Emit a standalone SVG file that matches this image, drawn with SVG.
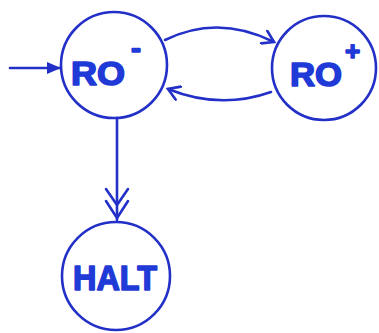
<svg xmlns="http://www.w3.org/2000/svg" width="379" height="333" viewBox="0 0 379 333">
<defs>
<style>
.st{fill:none;stroke:#2330c8;stroke-width:2.6;stroke-linecap:round;stroke-linejoin:round}
.tx{fill:#1f3ad6;stroke:#1f3ad6;stroke-width:1.6;stroke-linejoin:round;font-family:"Liberation Sans",Arial,sans-serif;font-weight:bold}
</style>
<marker id="fill" markerWidth="16" markerHeight="16" refX="13" refY="8" orient="auto" markerUnits="userSpaceOnUse">
<path d="M0,2 L14,8 L0,14 Z" fill="#2330c8"/>
</marker>
<marker id="open" markerWidth="16" markerHeight="16" refX="13" refY="8" orient="auto" markerUnits="userSpaceOnUse">
<path d="M2,1 L13,8 L2,15" fill="none" stroke="#2330c8" stroke-width="2.6" stroke-linecap="round"/>
</marker>
</defs>
<rect width="379" height="333" fill="#ffffff"/>
<g id="connectors">
<path class="st" d="M10,68 L60,68" marker-end="url(#fill)"/>
<path class="st" d="M165,40 Q218,14 274,42" marker-end="url(#open)"/>
<path class="st" d="M271,92 Q220,110 168,89" marker-end="url(#open)"/>
<path class="st" d="M117,118 L117,220"/>
<path class="st" d="M106,189 L117,205 L128,189"/>
<path class="st" d="M106,201 L117,218 L128,201"/>
</g>
<g id="node-ro-minus">
<circle class="st" cx="114" cy="65" r="53"/>
<text class="tx" x="71" y="85" font-size="33" textLength="54" lengthAdjust="spacingAndGlyphs">RO</text>
<text class="tx" x="131" y="58" font-size="30">-</text>
</g>
<g id="node-ro-plus">
<circle class="st" cx="324" cy="68" r="52"/>
<text class="tx" x="290" y="86" font-size="33" textLength="52" lengthAdjust="spacingAndGlyphs">RO</text>
<text class="tx" x="345" y="60" font-size="26">+</text>
</g>
<g id="node-halt">
<circle class="st" cx="116" cy="276" r="54"/>
<text class="tx" x="73" y="290" font-size="35" textLength="84" lengthAdjust="spacingAndGlyphs">HALT</text>
</g>
</svg>
